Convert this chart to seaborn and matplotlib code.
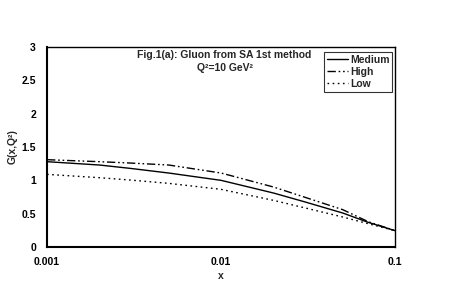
import matplotlib
matplotlib.use("Agg")
import matplotlib.pyplot as plt
import seaborn as sns
import pandas as pd

# values
x_vals = [0.001, 0.002, 0.003, 0.005, 0.01, 0.02, 0.03, 0.05, 0.07, 0.1]
medium = [1.28, 1.23, 1.18, 1.11, 1.00, 0.81, 0.68, 0.51, 0.37, 0.245]
high = [1.31, 1.28, 1.26, 1.23, 1.11, 0.90, 0.75, 0.56, 0.38, 0.245]
low = [1.09, 1.04, 1.005, 0.955, 0.865, 0.70, 0.59, 0.45, 0.35, 0.245]
series_names = ["Medium", "High", "Low"]
x_ticks = [0.001, 0.01, 0.1]
x_tick_labels = ["0.001", "0.01", "0.1"]
y_ticks = [0, 0.5, 1, 1.5, 2, 2.5, 3]
y_tick_labels = ["0", "0.5", "1", "1.5", "2", "2.5", "3"]

sns.set_style("white")
plt.rcParams['font.family'] = ['Liberation Sans', 'DejaVu Sans']
plt.rcParams['font.weight'] = 'bold'

fig = plt.figure(figsize=(4.75, 2.92), dpi=100)
ax = fig.add_axes([0.099, 0.154, 0.733, 0.685])

styles = {"Medium": "-", "High": (0, (6, 2, 1.2, 2, 1.2, 2)), "Low": (0, (1.2, 2.5))}
for name, vals in zip(series_names, [medium, high, low]):
    df = pd.DataFrame({"x": x_vals, "G": vals})
    sns.lineplot(data=df, x="x", y="G", ax=ax, color="black", linewidth=1.0,
                 linestyle=styles[name], label=name)

ax.set_xscale("log")
ax.set_xlim(0.001, 0.1)
ax.set_ylim(0, 3)
ax.set_xticks(x_ticks)
ax.set_xticklabels(x_tick_labels)
ax.minorticks_off()
ax.set_yticks(y_ticks)
ax.set_yticklabels(y_tick_labels)
ax.tick_params(axis="both", direction="in", length=3, width=1, labelsize=7.5, colors="black")
ax.tick_params(axis="x", pad=7)
ax.tick_params(axis="y", pad=8)

for side in ["left", "bottom"]:
    ax.spines[side].set_linewidth(1.5)
for side in ["right", "top"]:
    ax.spines[side].set_linewidth(1.0)
for s in ax.spines.values():
    s.set_color("black")

ax.set_xlabel("x", fontsize=7.5, fontweight="bold")
ax.set_ylabel("G(x,Q²)", fontsize=7.5, fontweight="bold")
ax.xaxis.set_label_coords(0.5, -0.12)
ax.yaxis.set_label_coords(-0.085, 0.5)

ax.text(0.51, 0.96, "Fig.1(a): Gluon from SA 1st method", transform=ax.transAxes,
        ha="center", va="center", fontsize=7.5, fontweight="bold")
ax.text(0.51, 0.893, "Q²=10 GeV²", transform=ax.transAxes,
        ha="center", va="center", fontsize=7.5, fontweight="bold")

leg = ax.legend(loc="upper right", bbox_to_anchor=(0.992, 0.977), fontsize=7.5,
                frameon=True, fancybox=False, handlelength=2.0, handletextpad=0.2,
                borderpad=0.3, labelspacing=0.2, borderaxespad=0)
leg.get_frame().set_edgecolor("black")
leg.get_frame().set_linewidth(0.8)
for t in leg.get_texts():
    t.set_fontweight("bold")

fig.savefig("out.png", dpi=100)
